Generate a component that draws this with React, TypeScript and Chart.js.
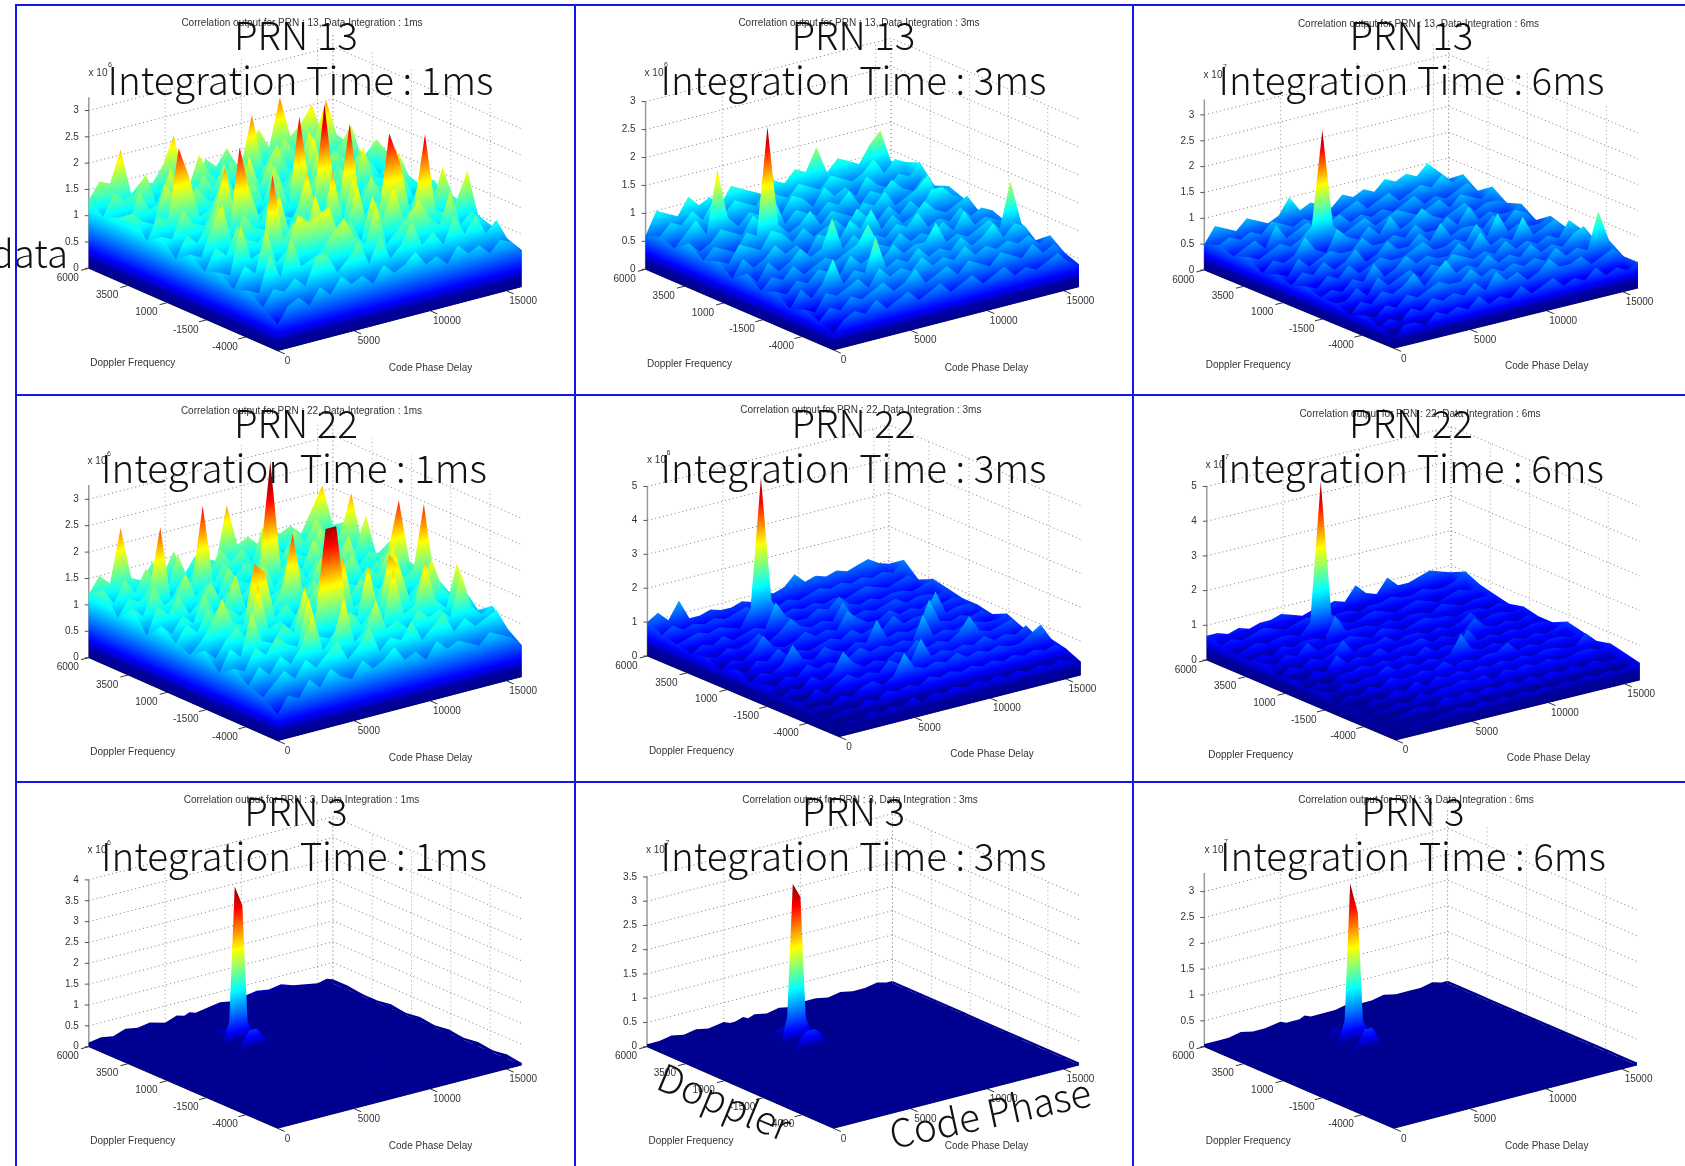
import React, { useEffect, useRef } from "react";
import { Chart, registerables } from "chart.js";
Chart.register(...registerables);

// Correlation values, in tenths of one axis unit. Rows run from Doppler 6000 (back) to -6000 (front).
const prn13ms1 = [
[13,16,15,21,12,14,13,16,21,12,11,15,13,16,12,15,18,14,23,15,17,20,14,12],
[11,15,13,14,17,11,15,13,12,18,14,12,15,14,23,13,12,17,14,11,16,22,15,13],
[12,10,16,12,13,19,12,11,16,13,17,11,16,12,15,18,13,12,19,14,12,15,18,11],
[14,12,11,18,15,11,16,13,12,15,12,19,13,17,12,14,11,20,13,16,14,12,13,16],
[10,14,13,26,20,12,13,17,11,14,16,12,18,13,16,11,18,12,15,12,17,14,11,14],
[12,11,16,13,12,15,22,12,15,11,13,17,12,28,14,17,12,16,11,19,13,12,17,12],
[9,13,11,14,17,12,27,18,12,16,12,11,15,13,31,13,15,11,14,13,12,18,13,11],
[11,10,15,19,11,16,13,12,17,11,14,21,12,14,13,28,12,17,13,20,16,11,14,13],
[9,13,11,16,13,12,14,20,12,15,13,11,22,12,20,12,14,12,23,11,13,15,12,10],
[10,9,18,11,12,26,13,16,12,20,14,12,13,20,11,13,28,22,12,19,12,19,13,11],
[8,12,10,18,11,13,19,17,18,19,12,15,11,19,14,20,13,15,28,13,12,14,19,10],
[9,8,15,10,17,11,12,13,16,18,14,12,19,11,13,15,18,14,12,18,11,13,11,9],
[7,10,9,11,9,14,14,10,12,15,10,15,10,12,16,11,13,10,15,11,14,10,12,8],
[5,8,9,7,10,8,11,9,10,8,11,9,10,12,9,10,8,11,9,10,8,10,9,7],
];
const prn13ms3 = [
[6,10,9,8,11,9,10,8,11,10,9,8,10,9,11,10,14,9,11,10,9,12,14,8],
[7,9,8,10,8,11,8,10,9,8,11,9,8,10,9,8,10,9,8,9,11,8,10,9],
[6,8,10,7,18,9,7,9,8,10,7,10,9,7,10,8,9,7,10,8,7,9,8,10],
[8,6,7,9,8,7,10,8,12,7,9,8,7,9,8,10,7,9,8,10,8,7,9,7],
[6,8,7,6,9,8,27,9,7,8,10,7,9,8,7,9,8,10,7,8,9,11,7,8],
[7,6,9,8,7,10,9,7,9,7,8,9,7,10,8,7,9,7,9,7,10,10,8,7],
[5,8,6,7,9,7,8,6,9,8,7,10,8,11,7,9,7,8,10,8,7,8,9,6],
[7,5,8,6,7,9,7,8,13,7,9,7,8,7,9,8,10,7,8,7,9,7,8,7],
[5,7,6,8,6,7,8,7,8,9,12,8,7,9,7,8,7,9,7,10,7,8,7,6],
[6,5,7,6,8,7,6,9,7,8,7,9,7,8,8,11,7,8,7,8,9,7,15,7],
[4,7,5,7,11,6,8,7,13,7,8,7,9,7,8,7,9,7,8,10,7,9,8,5],
[5,4,7,6,7,8,6,9,7,8,7,9,7,8,7,9,7,8,7,8,7,8,6,7],
[4,6,5,7,6,7,8,6,7,9,6,7,8,6,8,7,6,8,7,6,8,6,7,5],
[3,5,6,5,7,5,6,7,5,6,7,5,6,7,5,6,7,5,6,5,6,7,5,4],
];
const prn13ms6 = [
[5,8,7,6,8,7,6,7,10,7,8,7,6,8,7,8,7,9,8,9,8,10,8,6],
[6,7,6,7,6,8,7,6,7,6,7,6,7,8,6,7,8,6,7,8,7,9,7,8],
[5,6,7,5,9,6,7,8,6,7,8,6,7,6,7,6,7,8,6,7,6,7,8,6],
[6,5,6,7,6,7,9,27,8,6,7,8,6,7,8,7,6,7,8,6,8,7,6,8],
[4,6,5,6,9,6,5,9,7,6,8,6,9,6,7,9,7,6,7,8,6,7,7,6],
[5,4,7,5,6,7,6,6,8,6,6,7,6,8,6,6,8,6,9,6,7,6,6,7],
[4,6,5,7,5,6,8,5,6,8,6,6,8,6,9,6,7,7,6,8,6,8,7,5],
[5,4,6,5,7,5,6,7,6,6,7,8,6,6,7,6,9,6,10,6,7,6,6,7],
[4,5,4,6,5,8,5,6,8,6,7,6,6,8,6,9,6,7,6,10,6,7,8,6],
[4,4,6,4,7,5,6,7,5,7,6,8,7,6,7,6,8,6,7,6,7,6,9,7],
[3,5,4,6,5,6,8,5,7,9,6,7,6,8,6,7,6,8,6,7,6,8,9,6],
[4,3,5,4,6,5,6,7,6,6,8,6,7,6,7,6,7,6,8,6,7,6,13,7],
[3,4,3,5,4,6,5,6,5,7,5,8,6,7,5,6,8,6,6,7,5,6,7,5],
[2,4,4,3,5,4,5,4,6,4,5,4,6,4,5,6,4,5,4,6,4,5,4,5],
];
const prn22ms1 = [
[12,15,13,23,13,12,15,12,16,11,14,13,12,22,14,15,13,16,14,15,13,17,21,13],
[14,11,15,12,16,13,11,17,12,14,12,16,13,15,12,18,14,12,16,13,17,14,12,15],
[10,13,12,14,25,11,14,13,27,12,15,12,14,13,16,12,15,13,12,17,13,15,22,12],
[13,11,16,12,13,17,12,14,11,16,13,12,15,34,13,14,12,17,14,12,15,13,19,11],
[9,14,12,15,11,13,16,12,15,12,14,17,12,14,16,12,15,12,13,18,12,14,13,15],
[12,10,13,11,16,12,13,18,11,14,12,13,15,12,13,17,12,14,16,12,13,15,12,11],
[10,13,11,15,12,14,12,13,16,12,15,25,13,15,12,14,13,12,15,13,17,26,14,12],
[9,11,14,18,13,12,23,21,12,14,11,13,16,20,14,12,15,13,12,20,13,14,26,11],
[11,9,12,14,11,21,12,13,11,15,13,12,14,22,12,13,12,16,20,11,13,15,13,10],
[8,12,10,18,12,11,14,12,20,13,30,30,13,12,21,12,22,19,12,15,19,13,11,12],
[10,9,13,11,14,12,11,20,12,11,13,15,12,14,11,21,12,13,21,13,11,19,12,9],
[8,11,9,12,10,13,19,11,13,20,11,13,18,12,13,11,14,12,13,11,19,12,10,11],
[7,9,11,9,12,10,12,14,10,12,15,10,12,11,14,10,12,14,10,12,10,11,12,8],
[5,8,7,10,8,11,9,8,11,9,10,12,9,10,8,11,9,10,9,8,10,9,8,6],
];
const prn22ms3 = [
[10,12,9,14,8,8,9,8,8,9,8,10,9,10,13,10,11,10,11,10,11,12,10,9],
[8,10,8,9,8,9,8,9,10,8,9,8,9,8,9,10,9,10,9,10,9,10,9,12],
[7,8,9,8,9,8,7,12,50,13,8,9,8,9,8,9,8,9,10,9,8,9,10,8],
[6,8,7,9,7,8,9,8,15,10,8,8,10,9,12,9,8,9,8,9,9,8,9,10],
[7,6,8,7,8,10,7,9,12,9,8,9,8,13,8,9,8,9,10,8,9,9,8,9],
[5,7,6,8,12,8,7,8,10,8,9,8,13,10,8,8,10,8,9,8,10,8,9,8],
[7,5,8,7,10,7,8,7,8,9,8,10,8,9,8,11,8,9,9,15,8,9,9,8],
[5,7,6,8,13,8,7,10,8,7,9,8,14,8,9,8,9,16,9,8,9,8,9,7],
[6,5,7,6,9,7,8,7,8,10,8,9,8,9,8,15,8,9,8,9,9,8,8,9],
[4,6,5,8,6,8,13,9,7,8,7,9,8,11,8,9,8,10,14,9,8,9,10,7],
[5,4,7,5,7,9,7,8,7,10,8,8,14,8,9,8,9,8,10,8,9,8,10,6],
[4,5,4,6,5,7,8,6,8,14,9,8,9,8,10,8,9,8,9,8,8,10,12,7],
[3,4,5,4,6,5,7,6,7,6,8,7,8,7,8,7,8,7,8,7,8,7,8,6],
[2,4,3,5,4,5,4,6,4,6,5,6,5,6,5,6,5,6,5,6,5,6,5,4],
];
const prn22ms6 = [
[7,7,6,7,6,7,7,8,7,6,7,7,8,7,11,8,7,11,8,8,9,10,9,8],
[6,7,6,7,8,7,6,7,8,7,6,7,7,6,7,7,8,7,7,8,7,7,8,10],
[5,6,7,6,7,7,6,9,49,10,7,6,7,8,7,6,7,8,7,6,7,8,7,8],
[5,6,5,7,6,7,7,6,12,7,7,7,6,7,6,7,7,6,8,7,6,7,7,7],
[6,5,7,6,9,6,7,7,8,7,6,8,7,6,7,8,7,7,6,7,7,6,7,6],
[4,6,5,7,6,7,10,6,7,7,8,6,7,7,6,7,6,7,9,6,7,7,6,7],
[5,4,6,5,9,6,7,6,8,6,7,7,8,6,7,6,7,10,7,6,7,6,7,6],
[4,5,4,6,6,7,6,7,6,7,6,8,6,7,6,10,6,7,6,7,6,7,7,6],
[5,4,6,5,6,6,8,6,7,6,7,6,7,12,7,6,7,6,7,6,7,6,7,8],
[3,5,4,6,5,7,6,6,7,6,8,6,7,6,7,7,9,6,7,6,7,7,6,7],
[4,3,5,4,6,5,7,5,7,6,7,6,7,6,7,6,7,6,7,7,6,6,9,6],
[3,4,4,5,4,6,5,6,6,7,6,7,5,7,6,7,6,7,6,6,7,7,6,7],
[3,3,4,5,5,4,6,5,6,5,6,5,6,5,6,5,6,5,6,5,6,5,5,6],
[2,3,4,3,4,4,5,4,5,4,5,4,5,4,5,4,5,4,5,4,5,4,5,5],
];
const quiet3Back = [1,1.5,1,2,1.5,2,1,1.5,2,1.5,2,1.5,2,2.5,2,2.5,3,2.5,3,2,1.5,1,1.5,1];
const quiet3A = [0.5,1,1,1.5,1,1.5,1,1,1.5,1,1.5,1,2,1.5,2,1.5,1.5,2,1.5,1,1.5,1,1,1];
const quiet3B = [1,0.5,1,1,1.5,1,1.5,1,1,1.5,1,1.5,1,1.5,1,2,1,1.5,1,1.5,1,1,1.5,0.5];
const prn3ms1 = [
quiet3Back, quiet3A, quiet3B,
[1,0.5,1,1,1.5,1,1,2,3,3,2,1,1,1.5,1,2,1,1.5,1,1.5,1,1,1.5,0.5],
[0.5,1,1,1.5,1,1.5,2,7,39,34,6,2,2,1.5,2,1.5,1.5,2,1.5,1,1.5,1,1,1],
[1,0.5,1,1,1.5,1,2,4,6,6,4,2,1,1.5,1,2,1,1.5,1,1.5,1,1,1.5,0.5],
quiet3A, quiet3B, quiet3A, quiet3B, quiet3A, quiet3B, quiet3A, quiet3B,
];
const quiet8 = [0.5,0.5,1,0.5,1,0.5,1,0.5,0.5,1,0.5,1,0.5,1,0.5,1,1,0.5,1,0.5,0.5,1,0.5,0.5];
const prn3ms3 = [
quiet8, quiet8, quiet8,
[0.5,0.5,1,0.5,1,0.5,1,2,3,3,2,1,0.5,1,0.5,1,1,0.5,1,0.5,0.5,1,0.5,0.5],
[0.5,0.5,1,0.5,1,0.5,2,7,34,31,6,2,0.5,1,0.5,1,1,0.5,1,0.5,0.5,1,0.5,0.5],
[0.5,0.5,1,0.5,1,0.5,2,4,5,5,4,2,0.5,1,0.5,1,1,0.5,1,0.5,0.5,1,0.5,0.5],
quiet8, quiet8, quiet8, quiet8, quiet8, quiet8, quiet8, quiet8,
];
const quiet9 = [0.5,0.5,0.5,1,0.5,0.5,1,0.5,0.5,0.5,1,0.5,0.5,0.5,1,0.5,0.5,1,0.5,0.5,0.5,1,0.5,0.5];
const prn3ms6 = [
quiet9, quiet9, quiet9,
[0.5,0.5,0.5,1,0.5,0.5,1,2,3,2,1,0.5,0.5,0.5,1,0.5,0.5,1,0.5,0.5,0.5,1,0.5,0.5],
[0.5,0.5,0.5,1,0.5,0.5,2,6,32,26,5,2,0.5,0.5,1,0.5,0.5,1,0.5,0.5,0.5,1,0.5,0.5],
[0.5,0.5,0.5,1,0.5,0.5,2,3,5,5,3,1,0.5,0.5,1,0.5,0.5,1,0.5,0.5,0.5,1,0.5,0.5],
quiet9, quiet9, quiet9, quiet9, quiet9, quiet9, quiet9, quiet9,
];

const codeBins = [0,696,1391,2087,2783,3478,4174,4870,5565,6261,6957,7652,8348,9043,9739,10435,11130,11826,12522,13217,13913,14609,15304,16000];
const peakCodeBins = [0,800,1600,2400,3200,4000,5000,5400,5760,6260,6600,7000,7800,8600,9400,10200,11000,11800,12600,13400,14200,15000,15600,16000];
const dopplerTicks = [6000,3500,1000,-1500,-4000];
const codeTicks = [0,5000,10000,15000];
const zTicks3 = [0,0.5,1,1.5,2,2.5,3];
const zTicks35 = [0,0.5,1,1.5,2,2.5,3,3.5];
const zTicks4 = [0,0.5,1,1.5,2,2.5,3,3.5,4];
const zTicks5 = [0,1,2,3,4,5];
const DOPPLER_START = 6000, DOPPLER_SPAN = 12000, CODE_SPAN = 16000;

const panels = [
 { rows: prn13ms1, bins: codeBins, prn: "13", ms: "1", exp: "6", cell: [0,0,575,395], L:[88.8,268.3], B:[277.5,350.7], R:[521.6,286.7], unit:52.6, zTop:3.25, cMax:3.1, ticks:zTicks3, head:[302,23.7], big1:[296,35], big2:[300.4,80], xten:[98,73.3] },
 { rows: prn13ms3, bins: codeBins, prn: "13", ms: "3", exp: "6", cell: [575,0,1132,395], L:[645.6,269.3], B:[833.5,350], R:[1079,286.7], unit:55.9, zTop:3, cMax:2.7, ticks:zTicks3, head:[859,23.7], big1:[853.5,35], big2:[853.5,80], xten:[654,73] },
 { rows: prn13ms6, bins: codeBins, prn: "13", ms: "6", exp: "7", cell: [1132,0,1685,395], L:[1204.3,270], B:[1393.7,348.3], R:[1638,288], unit:51.7, zTop:3.3, cMax:2.7, ticks:zTicks3, head:[1418.5,24.7], big1:[1411.4,35], big2:[1411.4,80], xten:[1213,75] },
 { rows: prn22ms1, bins: codeBins, prn: "22", ms: "1", exp: "6", cell: [0,395,575,781], L:[88.8,657.7], B:[277.5,740.7], R:[521.6,676.7], unit:52.8, zTop:3.27, cMax:3.1, ticks:zTicks3, head:[301.5,411.7], big1:[296,423], big2:[294,468], xten:[97,461.7] },
 { rows: prn22ms3, bins: codeBins, prn: "22", ms: "3", exp: "6", cell: [575,395,1132,781], L:[647.4,656], B:[839,736.7], R:[1080.7,675], unit:33.9, zTop:5, cMax:5, ticks:zTicks5, head:[860.8,410.7], big1:[853.5,423], big2:[853.5,468], xten:[656.5,460.7] },
 { rows: prn22ms6, bins: codeBins, prn: "22", ms: "6", exp: "7", cell: [1132,395,1685,781], L:[1206.8,660], B:[1395.5,740], R:[1639.7,680], unit:34.7, zTop:5, cMax:4.9, ticks:zTicks5, head:[1420,414.7], big1:[1411,423], big2:[1411,468], xten:[1215,465] },
 { rows: prn3ms1, bins: peakCodeBins, prn: "3", ms: "1", exp: "6", cell: [0,781,575,1166], L:[88.8,1046.7], B:[277.5,1128.3], R:[521.6,1065], unit:41.7, zTop:4, cMax:3.9, ticks:zTicks4, head:[301.5,800.7], big1:[296,811], big2:[294,856], xten:[97,850.7] },
 { rows: prn3ms3, bins: peakCodeBins, prn: "3", ms: "3", exp: "7", cell: [575,781,1132,1166], L:[647,1046.7], B:[833.5,1128.3], R:[1079,1065], unit:48.5, zTop:3.5, cMax:3.4, ticks:zTicks35, head:[860,800.7], big1:[853.5,811], big2:[853.5,856], xten:[655.4,850.7] },
 { rows: prn3ms6, bins: peakCodeBins, prn: "3", ms: "6", exp: "7", cell: [1132,781,1685,1166], L:[1204.3,1046.7], B:[1393.7,1128.3], R:[1637,1065], unit:51.7, zTop:3.36, cMax:3.2, ticks:zTicks3, head:[1416,800.6], big1:[1413,811], big2:[1413,856], xten:[1214,850] },
];

const SMALL = '10px "Liberation Sans"';
const BIG = '300 38.5px "Noto Sans CJK JP"';
const JET: [number,string][] = [[0,"#00008f"],[0.05,"#00009a"],[0.11,"#0000ff"],[0.36,"#00ffff"],[0.61,"#ffff00"],[0.86,"#ff0000"],[1,"#800000"]];
const borderH = [[15,1685,4],[15,1685,394],[15,1685,781]];
const borderV = [[15,4,1166],[574,4,1166],[1132,4,1166]];

function makeProjector(p: any) {
  const ux = p.B[0]-p.L[0], uy = p.B[1]-p.L[1], vx = p.R[0]-p.B[0], vy = p.R[1]-p.B[1];
  return (a: number, b: number, z: number) => ({ x: a*ux + b*vx, y: z - (a*uy + b*vy)/p.unit });
}

function buildChart(canvas: HTMLCanvasElement, p: any) {
  const proj = makeProjector(p);
  const [cx0, cy0, cx1, cy1] = p.cell;
  const ux = p.B[0]-p.L[0], uy = p.B[1]-p.L[1];
  const vx = p.R[0]-p.B[0], vy = p.R[1]-p.B[1];
  const len = Math.hypot(vx, vy), ulen = Math.hypot(ux, uy);
  const aOf = (d: number) => (DOPPLER_START - d)/DOPPLER_SPAN;
  const bOf = (c: number) => c/CODE_SPAN;
  const painter: any[] = [];
  const line = (pts: any[], color: string, width: number, dash: number[] = []) =>
    painter.push({ data: pts, showLine: true, fill: false, pointRadius: 0, borderColor: color, borderWidth: width, borderDash: dash, backgroundColor: "transparent" });
  const gctx = canvas.getContext("2d") as CanvasRenderingContext2D;
  // height-coloured fill whose colour bands run parallel to (dx,dy), starting on the floor point `base`
  const heightFill = (base: any, dx: number, dy: number) => {
    const l = Math.hypot(dx, dy);
    let nx = dy/l, ny = -dx/l;
    if (ny > 0) { nx = -nx; ny = -ny; }
    const px = p.L[0]-cx0 + base.x, py = p.L[1]-cy0 - base.y*p.unit;
    const h = p.cMax*p.unit*Math.abs(ny);
    const g = gctx.createLinearGradient(px, py, px + nx*h, py + ny*h);
    for (const [s, col] of JET) g.addColorStop(s, col);
    return g;
  };
  const shape = (pts: any[], fillStyle: any) =>
    painter.push({ data: pts, showLine: true, fill: "shape", pointRadius: 0, borderWidth: 0, backgroundColor: fillStyle });

  // back walls
  for (const z of p.ticks) line([proj(0,0,z), proj(0,1,z), proj(1,1,z)], "rgba(40,40,40,0.62)", 1, [1,3]);
  for (const c of codeTicks) if (c > 0) line([proj(0,bOf(c),0), proj(0,bOf(c),p.zTop)], "rgba(50,50,50,0.5)", 1, [1,3]);
  line([proj(0,1,0), proj(0,1,p.zTop)], "rgba(40,40,40,0.7)", 1, [1,3]);
  for (const d of dopplerTicks) if (d < 6000) line([proj(aOf(d),1,0), proj(aOf(d),1,p.zTop)], "rgba(50,50,50,0.45)", 1, [1,3]);
  // axes
  line([proj(0,0,0), proj(0,0,p.zTop)], "#9a9a9a", 1.5);
  for (const z of p.ticks) painter.push({ data: [{x:-4,y:z},{x:0,y:z}], showLine:true, fill:false, pointRadius:0, borderColor:"#555", borderWidth:1 });
  line([proj(0,0,0), proj(1,0,0), proj(1,1,0)], "#333", 1);
  const tickOutU = 8/ulen;
  const tickOutV = 8/len;
  for (const d of dopplerTicks) line([proj(aOf(d),0,0), proj(aOf(d),-tickOutV,0)], "#333", 1);
  for (const c of codeTicks) line([proj(1,bOf(c),0), proj(1+tickOutU,bOf(c),0)], "#333", 1);

  const nRows = p.rows.length;
  // far-right edge of the surface, behind every ridge
  const rightTops = p.rows.map((row: number[], r: number) => proj(r/(nRows-1), 1, row[row.length-1]/10));
  shape([proj(0,1,0), ...rightTops, proj(1,1,0), proj(0,1,0)], heightFill(proj(0,1,0), ux, uy));

  // surface ridges, back to front
  p.rows.forEach((row: number[], r: number) => {
    const a = r/(nRows-1);
    const next = r < nRows-1 ? (r+1)/(nRows-1) : a;
    const pts: any[] = [proj(a,0,0)];
    row.forEach((v, c) => pts.push(proj(a, bOf(p.bins[c]), v/10)));
    pts.push(proj(a,1,0));
    if (next !== a) { pts.push(proj(next,1,0)); pts.push(proj(next,0,0)); }
    pts.push(proj(a,0,0));
    shape(pts, heightFill(proj(a,0,0), vx, vy));
  });

  // near-left edge of the surface, in front of every ridge
  const leftTops = p.rows.map((row: number[], r: number) => proj(r/(nRows-1), 0, row[0]/10));
  shape([proj(0,0,0), ...leftTops, proj(1,0,0), proj(0,0,0)], heightFill(proj(0,0,0), ux, uy));

  const textPlugin = {
    id: "panelText",
    afterDraw(chart: any) {
      const c = chart.ctx;
      const sx = chart.scales.x, sy = chart.scales.y;
      const at = (pt: any) => [sx.getPixelForValue(pt.x), sy.getPixelForValue(pt.y)];
      c.save();
      c.textAlign = "center"; c.textBaseline = "middle";
      c.fillStyle = "#333"; c.font = SMALL;
      dopplerTicks.forEach(d => { const [x,y] = at(proj(aOf(d),0,0)); c.fillText(String(d), x-21, y+10); });
      codeTicks.forEach(v => { const [x,y] = at(proj(1,bOf(v),0)); c.fillText(String(v), x+10+(String(v).length-1)*1.7, y+10.5); });
      c.fillText("Doppler Frequency", p.L[0]+44-cx0, p.L[1]+95-cy0);
      c.fillText("Code Phase Delay", p.B[0]+153-cx0, p.B[1]+18-cy0);
      c.fillText(`Correlation output for PRN : ${p.prn}, Data Integration : ${p.ms}ms`, p.head[0]-cx0, p.head[1]-cy0);
      c.fillText("x 10", p.xten[0]-cx0, p.xten[1]-cy0);
      c.font = '7px "Liberation Sans"';
      c.fillText(p.exp, p.xten[0]+12-cx0, p.xten[1]-8-cy0);
      c.fillStyle = "#111"; c.font = BIG;
      c.fillText(`PRN ${p.prn}`, p.big1[0]-cx0, p.big1[1]-cy0);
      c.fillText(`Integration Time : ${p.ms}ms`, p.big2[0]-cx0, p.big2[1]-cy0);
      if (p.prn === "13" && p.ms === "1") { c.textAlign = "right"; c.fillText("data", 68, 253); c.textAlign = "center"; }
      if (p.prn === "3" && p.ms === "3") {
        c.save(); c.translate(724.5-cx0, 1101.7-cy0); c.rotate(22.6*Math.PI/180); c.fillText("Doppler", 0, 0); c.restore();
        c.save(); c.translate(990-cx0, 1113-cy0); c.rotate(-12.2*Math.PI/180); c.fillText("Code Phase", 0, 0); c.restore();
      }
      c.restore();
    },
  };

  return new Chart(canvas, {
    type: "scatter",
    data: { datasets: painter.slice().reverse() },
    plugins: [textPlugin],
    options: {
      animation: false, responsive: false, events: [],
      layout: { padding: 0, autoPadding: false },
      plugins: { legend: { display: false }, tooltip: { enabled: false }, title: { display: false } },
      scales: {
        x: { type: "linear", display: false, min: cx0-p.L[0], max: cx1-p.L[0] },
        y: {
          type: "linear", min: (p.L[1]-cy1)/p.unit, max: (p.L[1]-cy0)/p.unit, position: { x: -10 },
          grid: { display: false }, border: { display: false },
          afterBuildTicks: (s: any) => { s.ticks = p.ticks.map((value: number) => ({ value })); },
          afterFit: (s: any) => { s.paddingTop = 0; s.paddingBottom = 0; s.paddingLeft = 0; s.paddingRight = 0; },
          ticks: { autoSkip: false, color: "#333", font: { family: "Liberation Sans", size: 10 }, callback: (v: any) => String(v) },
        },
      },
    } as any,
  } as any);
}

function Panel({ p }: { p: any }) {
  const ref = useRef<HTMLCanvasElement>(null);
  useEffect(() => {
    const chart = buildChart(ref.current as HTMLCanvasElement, p);
    return () => chart.destroy();
  }, [p]);
  const [x0, y0, x1, y1] = p.cell;
  return <canvas ref={ref} width={x1-x0} height={y1-y0} style={{ position: "absolute", left: x0, top: y0, width: x1-x0, height: y1-y0, display: "block" }} />;
}

export default function App() {
  return (
    <div style={{ position: "absolute", left: 0, top: 0, width: 1685, height: 1166, overflow: "hidden", background: "#fff" }}>
      {panels.map((p, i) => <Panel key={i} p={p} />)}
      {borderH.map(([a,b,y], i) => <div key={"h"+i} style={{ position: "absolute", left: a, top: y, width: b-a, height: 2, background: "#1515ee" }} />)}
      {borderV.map(([x,a,b], i) => <div key={"v"+i} style={{ position: "absolute", left: x, top: a, width: 2, height: b-a, background: "#1515ee" }} />)}
    </div>
  );
}
